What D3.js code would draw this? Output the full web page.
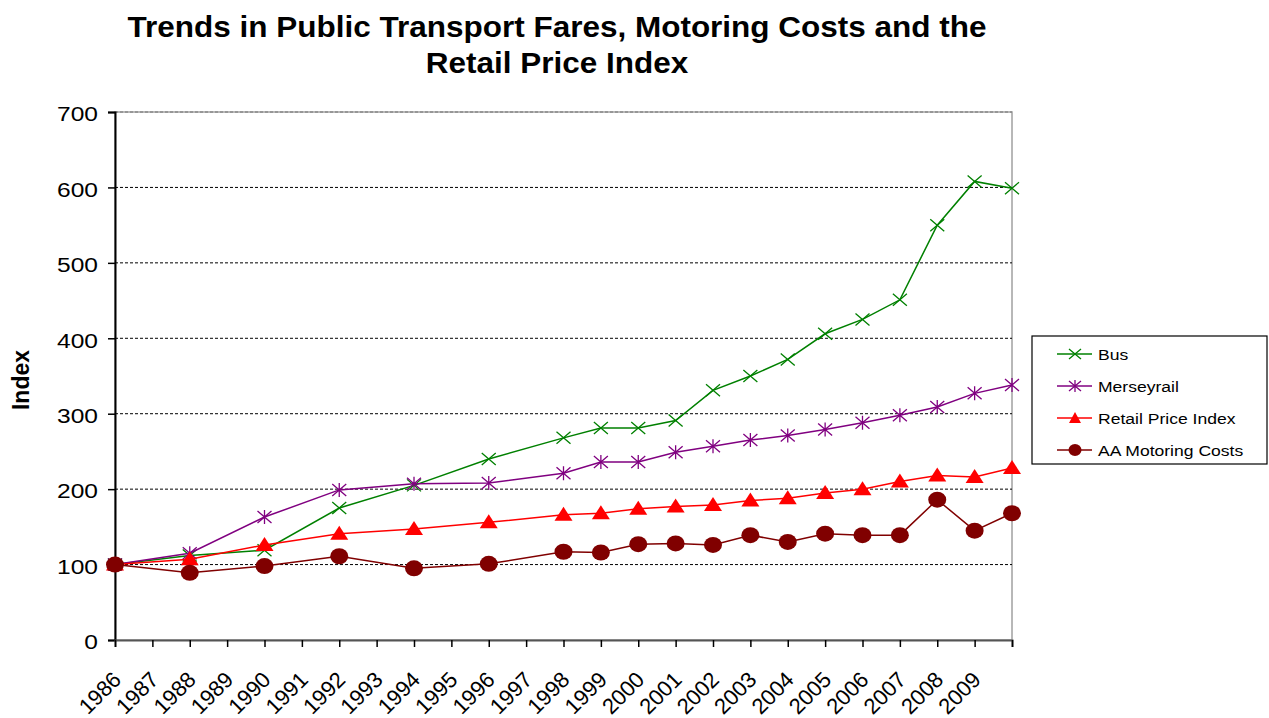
<!DOCTYPE html>
<html><head><meta charset="utf-8">
<script src="https://cdn.jsdelivr.net/npm/d3@7"></script>
<style>body{margin:0;background:#fff;font-family:"Liberation Sans",Arial,sans-serif;}</style>
</head><body><svg id="c" width="1269" height="718"></svg>
<script>
const years = [1986,1988,1990,1992,1994,1996,1998,1999,2000,2001,2002,2003,2004,2005,2006,2007,2008,2009,2010];
const tickYears = d3.range(1986,2011);
const tickLabels = d3.range(1986,2010).map(String);
const busValues = [100,112,119,175,205,240,268,281,281,291,331,350,372,406,425,451,550,608,599];
const merseyrailValues = [100,115,163,199,207,208,221,236,236,249,257,265,271,279,288,298,309,327,338];
const rpiValues = [100,107,126,141,147,156,166,168,174,177,179,185,188,195,200,210,218,216,228];
const aaValues = [100,89,98,111,95,101,117,116,127,128,126,139,130,141,139,139,186,145,168];
const yTicks = [0,100,200,300,400,500,600,700];
const seriesNames = ["Bus","Merseyrail","Retail Price Index","AA Motoring Costs"];
const seriesColors = ["#008000","#800080","#ff0000","#800000"];
const seriesMarkers = ["x","star","triangle","circle"];
const seriesValues = [busValues, merseyrailValues, rpiValues, aaValues];

const svg = d3.select("#c");
const FONT = "Liberation Sans, Arial, sans-serif";
const SX = 1.17;
const L=115,R=1012,T=112,B=640;
const x = d3.scaleLinear().domain([1986,2010]).range([L,R]);
const y = d3.scaleLinear().domain([0,700]).range([B,T]);

// plot border
svg.append("rect").attr("x",L).attr("y",T).attr("width",R-L).attr("height",B-T)
  .attr("fill","none").attr("stroke","#a0a0a0").attr("stroke-width",1.5);
// grid
svg.append("g").selectAll("line").data(yTicks.filter(d=>d>0)).join("line")
  .attr("x1",L).attr("x2",R).attr("y1",d=>y(d)).attr("y2",d=>y(d))
  .attr("stroke",d=>d===700?"#777":"#000").attr("stroke-width",1).attr("stroke-dasharray","3,2");

// y axis
const ya = svg.append("g").attr("transform",`translate(${L},0)`)
  .call(d3.axisLeft(y).tickValues(yTicks).tickSize(7));
ya.attr("font-size",null);
ya.select(".domain").attr("stroke","#000").attr("stroke-width",2);
ya.selectAll(".tick line").attr("stroke","#000").attr("stroke-width",1.5);
ya.selectAll("text").style("font-size","21px").style("font-family",FONT).attr("fill","#000")
  .attr("x",0).attr("dy","0.42em").attr("transform",`translate(-17,0) scale(${SX},1)`);

// x axis
const xa = svg.append("g").attr("transform",`translate(0,${B})`)
  .call(d3.axisBottom(x).tickValues(tickYears).tickSize(7)
    .tickFormat(d=>{const i=d-1986; return i<tickLabels.length?tickLabels[i]:"";}));
xa.attr("font-size",null);
xa.select(".domain").attr("stroke","#555").attr("stroke-width",2);
xa.selectAll(".tick line").attr("stroke","#000").attr("stroke-width",1.5);
xa.selectAll("text").style("font-size","22px").style("font-family",FONT).attr("fill","#000")
  .attr("text-anchor","end").attr("dy",0).attr("y",0)
  .attr("transform","translate(7,41) rotate(-45)");

function drawMarker(g, type, color){
  if(type==="x"){
    g.append("path").attr("d","M-7,-6L7,6M-7,6L7,-6").attr("stroke",color).attr("stroke-width",1.3).attr("fill","none");
  } else if(type==="star"){
    g.append("path").attr("d","M-7,-6L7,6M-7,6L7,-6M0,-7L0,7").attr("stroke",color).attr("stroke-width",1.3).attr("fill","none");
  } else if(type==="triangle"){
    g.append("path").attr("d","M0,-8L9,6L-9,6Z").attr("fill",color);
  } else {
    g.append("ellipse").attr("rx",9).attr("ry",8).attr("fill",color);
  }
}

const line = d3.line().x(d=>x(d[0])).y(d=>y(d[1]));
seriesValues.forEach((vals,i)=>{
  const data = years.map((yr,j)=>[yr,vals[j]]);
  const g = svg.append("g");
  g.append("path").datum(data).attr("d",line).attr("fill","none")
    .attr("stroke",seriesColors[i]).attr("stroke-width",1.5);
  g.selectAll("g.m").data(data).join("g").attr("class","m")
    .attr("transform",d=>`translate(${x(d[0])},${y(d[1])})`)
    .each(function(){ drawMarker(d3.select(this), seriesMarkers[i], seriesColors[i]); });
});

// title
const titleLines = ["Trends in Public Transport Fares, Motoring Costs and the","Retail Price Index"];
titleLines.forEach((t,i)=>{
  svg.append("text").attr("transform",`translate(557,${37+36*i}) scale(1.05,1)`).attr("text-anchor","middle")
    .attr("font-family",FONT).attr("font-size",30).attr("font-weight","bold").text(t);
});
// y title
svg.append("text").attr("transform","translate(29,380) rotate(-90)").attr("text-anchor","middle")
  .attr("font-family",FONT).attr("font-size",23).attr("font-weight","bold").text("Index");

// legend
const lg = svg.append("g");
lg.append("rect").attr("x",1032).attr("y",336).attr("width",235).attr("height",128)
  .attr("fill","#fff").attr("stroke","#000").attr("stroke-width",1.2);
seriesNames.forEach((n,i)=>{
  const yy = 354 + i*32;
  lg.append("line").attr("x1",1057).attr("x2",1092).attr("y1",yy).attr("y2",yy)
    .attr("stroke",seriesColors[i]).attr("stroke-width",1.5);
  const mg = lg.append("g").attr("transform",`translate(1075,${yy})`);
  if(seriesMarkers[i]==="triangle"){
    mg.append("path").attr("d","M0,-6L6,5L-6,5Z").attr("fill",seriesColors[i]);
  } else if(seriesMarkers[i]==="circle"){
    mg.append("ellipse").attr("rx",6.5).attr("ry",6).attr("fill",seriesColors[i]);
  } else {
    const p = seriesMarkers[i]==="x" ? "M-6,-5L6,5M-6,5L6,-5" : "M-6,-5L6,5M-6,5L6,-5M0,-6L0,6";
    mg.append("path").attr("d",p).attr("stroke",seriesColors[i]).attr("stroke-width",1.3).attr("fill","none");
  }
  lg.append("text").attr("transform",`translate(1098,${yy+5.5}) scale(${SX},1)`)
    .attr("font-family",FONT).attr("font-size",15).text(n);
});
</script></body></html>
